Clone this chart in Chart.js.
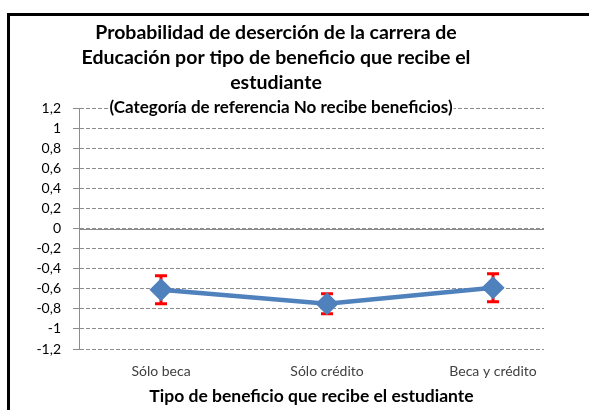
<!DOCTYPE html>
<html><head><meta charset="utf-8">
<script src="https://cdn.jsdelivr.net/npm/chart.js@4/dist/chart.umd.min.js"></script>
<style>html,body{margin:0;padding:0;background:#fff;overflow:hidden}#wrap{position:relative;width:589px;height:410px}</style>
</head><body><div id="wrap"><canvas id="c" width="589" height="410"></canvas></div>
<script>
const categories = ['Sólo beca', 'Sólo crédito', 'Beca y crédito'];
const probability = [-0.61, -0.75, -0.59];
const errorLow = [-0.75, -0.85, -0.73];
const errorHigh = [-0.47, -0.65, -0.45];
const titleLines = ['Probabilidad de deserción de la carrera de', 'Educación por tipo de beneficio que recibe el', 'estudiante'];
const subtitleText = '(Categoría de referencia No recibe beneficios)';
const xAxisTitle = 'Tipo de beneficio que recibe el estudiante';
const yMin = -1.2, yMax = 1.2, yStep = 0.2;

const FONT = 'Lato';
const GRID = '#8c8c8c';

const extras = {
  id: 'extras',
  beforeDraw(chart) {
    const ctx = chart.ctx;
    ctx.save(); ctx.fillStyle = '#fff'; ctx.fillRect(0, 0, chart.width, chart.height); ctx.restore();
  },
  beforeDatasetsDraw(chart) {
    const ctx = chart.ctx, xs = chart.scales.x, ys = chart.scales.y, a = chart.chartArea;
    ctx.save();
    const y0 = Math.round(ys.getPixelForValue(0)) + 0.5;
    ctx.strokeStyle = GRID; ctx.lineWidth = 1; ctx.setLineDash([]);
    ctx.beginPath(); ctx.moveTo(a.left, y0); ctx.lineTo(a.right, y0); ctx.stroke();
    ctx.strokeStyle = '#FF0000'; ctx.lineWidth = 3;
    categories.forEach((c, i) => {
      const x = xs.getPixelForValue(i);
      const y1 = ys.getPixelForValue(errorLow[i]);
      const y2 = ys.getPixelForValue(errorHigh[i]);
      ctx.beginPath();
      ctx.moveTo(x, y1); ctx.lineTo(x, y2);
      ctx.moveTo(x - 6, y1); ctx.lineTo(x + 6, y1);
      ctx.moveTo(x - 6, y2); ctx.lineTo(x + 6, y2);
      ctx.stroke();
    });
    ctx.restore();
  },
  afterDraw(chart) {
    const ctx = chart.ctx, ys = chart.scales.y;
    ctx.save();
    ctx.font = 'bold 17px ' + FONT;
    ctx.textAlign = 'center'; ctx.textBaseline = 'middle';
    const y = ys.getPixelForValue(yMax);
    const w = Math.min(ctx.measureText(subtitleText).width, 358);
    ctx.fillStyle = '#fff';
    ctx.fillRect(281 - w / 2 - 1, y - 9, w + 2, 18);
    ctx.fillStyle = '#000';
    ctx.fillText(subtitleText, 281, y, 358);
    ctx.strokeStyle = '#000'; ctx.lineWidth = 3;
    ctx.beginPath(); ctx.moveTo(8.5, chart.height); ctx.lineTo(8.5, 14.5); ctx.lineTo(chart.width, 14.5); ctx.stroke();
    ctx.restore();
  }
};

const fmt = v => { const r = Math.round(v * 10) / 10; return (r === 0 ? '0' : String(r)).replace('.', ','); };

new Chart(document.getElementById('c'), {
  type: 'line',
  data: {
    datasets: [{
      data: categories.map((c, i) => ({ x: i, y: probability[i] })),
      borderColor: '#4F81BD',
      borderWidth: 4.5,
      pointStyle: 'rectRot',
      pointRadius: 10.5,
      pointBackgroundColor: '#4F81BD',
      pointBorderColor: '#4F81BD',
      pointBorderWidth: 1.5,
      tension: 0
    }]
  },
  options: {
    responsive: false,
    animation: false,
    layout: { padding: { left: 8, right: 45, top: 0, bottom: 0 } },
    plugins: {
      legend: { display: false },
      tooltip: { enabled: false },
      title: {
        display: true,
        text: titleLines,
        color: '#000',
        font: { family: FONT, size: 19.5, weight: 'bold', lineHeight: 25 / 19.5 },
        padding: { top: 20, bottom: 13 }
      }
    },
    scales: {
      x: {
        type: 'linear',
        min: -0.494, max: 2.307,
        grid: { display: false },
        border: { display: false },
        ticks: {
          stepSize: 1, autoSkip: false, maxRotation: 0, includeBounds: false,
          callback: v => (Number.isInteger(v) && categories[v]) ? categories[v] : '',
          font: { family: FONT, size: 14 }, color: '#404040', padding: 6
        },
        title: {
          display: true, text: xAxisTitle, color: '#000',
          font: { family: FONT, size: 17.5, weight: 'bold', lineHeight: 1.2 },
          padding: { top: 0, bottom: 3 }
        },
        afterFit: s => { s.height = 61; }
      },
      y: {
        min: yMin, max: yMax,
        ticks: {
          stepSize: yStep, callback: fmt,
          font: { family: FONT, size: 14 }, color: '#000', padding: 12
        },
        grid: { color: GRID, lineWidth: 1, drawTicks: true, tickLength: 6, tickColor: GRID, tickBorderDash: [] },
        border: { display: true, color: GRID, width: 1, dash: [4, 2] },
        afterFit: s => { s.width = 71; }
      }
    }
  },
  plugins: [extras]
});
</script></body></html>
